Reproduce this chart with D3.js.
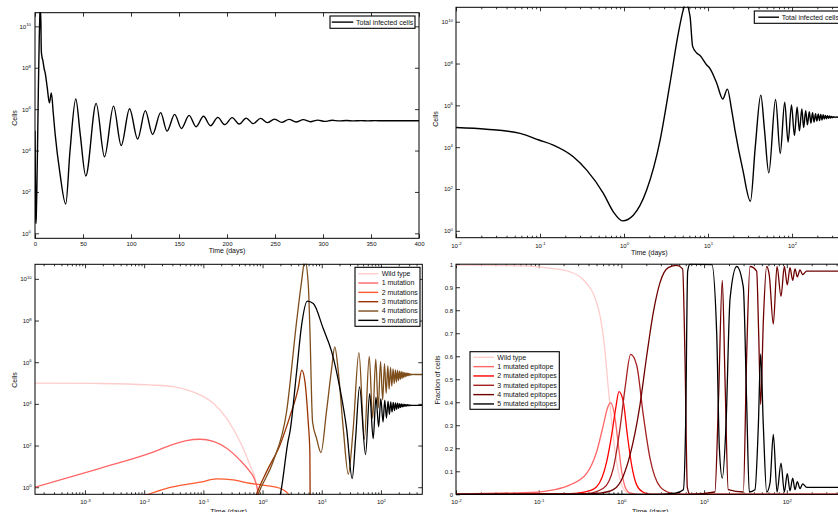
<!DOCTYPE html>
<html><head><meta charset="utf-8">
<script src="https://cdn.jsdelivr.net/npm/d3@7"></script>
<style>
body{margin:0;background:#fff;overflow:hidden}
svg{display:block}
</style></head><body>
<svg id="c" width="838" height="512"></svg>
<script>
// ---------------- DATA ----------------
// Total infected cells (top panels), time in days
const totalTime = [0, 0.01, 0.023, 0.058, 0.097, 0.144, 0.249, 0.36, 0.568, 0.746, 0.96, 1.29, 1.86, 2.69, 3.53, 4.44, 5.08, 5.42, 6.11, 6.56, 7.33, 8.04, 9.6, 10.6, 12.7, 15.0, 17.0, 19.1, 20.9, 26, 32, 36.5, 42.5, 47, 52.9, 63.7, 72.4, 81.8, 89.8, 98.5, 106.9, 114.9, 122.5, 130.9, 137.5, 145.5, 152.5, 160.5, 167.8, 175.5, 182.8, 190.4, 197.7, 205.4, 212.7, 220, 227.3, 235, 242, 249.6, 257, 264.6, 271.9, 279.5, 286.9, 294.5, 301.8, 309.5, 316.8, 324.5, 331.8, 339.4, 346.7, 354.4, 361.7, 370, 400];
const totalCells = [9.0e4, 8.7e4, 7.2e4, 4.6e4, 2.2e4, 1.26e4, 3.5e3, 8.0e2, 62, 8.1, 3.0, 5.6, 89, 2.2e4, 1.15e7, 2.9e9, 3.8e10, 8.0e10, 1.8e10, 6.6e8, 3.2e8, 2.4e8, 8.7e7, 5.6e7, 1.15e7, 2.0e6, 6.0e6, 6.0e5, 6.8e4, 7.9e2, 26, 1.0e4, 3.1e6, 6.8e4, 5.9e2, 1.9e6, 5.0e3, 1.4e6, 1.74e4, 1.05e6, 3.6e4, 8.5e5, 6.0e4, 6.8e5, 8.7e4, 5.6e5, 1.17e5, 5.0e5, 1.41e5, 4.5e5, 1.58e5, 4.0e5, 1.78e5, 3.9e5, 1.9e5, 3.7e5, 2.0e5, 3.6e5, 2.24e5, 3.3e5, 2.3e5, 3.2e5, 2.4e5, 3.1e5, 2.45e5, 2.95e5, 2.57e5, 2.9e5, 2.7e5, 2.82e5, 2.7e5, 2.8e5, 2.72e5, 2.78e5, 2.74e5, 2.76e5, 2.76e5];

// Cells by number of mutations (bottom-left panel)
const wildTime = [1.43e-4, 1.8e-3, 0.0126, 0.031, 0.052, 0.088, 0.147, 0.247, 0.415, 0.612, 0.794, 0.83, 0.9];
const wildCells = [9.8e4, 9.5e4, 8.1e4, 6.8e4, 4.7e4, 2.7e4, 1.07e4, 2.0e3, 155, 11.7, 1.3, 0.3, 0.01];
const mut1Time = [1.43e-4, 1.8e-3, 0.0126, 0.031, 0.052, 0.088, 0.147, 0.247, 0.415, 0.612, 0.70, 0.80, 0.86, 0.95];
const mut1Cells = [1.0, 8.1, 43, 115, 174, 200, 158, 74, 20, 5.6, 3.2, 1.1, 0.4, 0.05];
const mut2Time = [0.0085, 0.024, 0.052, 0.088, 0.167, 0.32, 0.612, 1.17, 1.97, 2.55, 3.3];
const mut2Cells = [0.32, 0.89, 1.38, 1.74, 2.5, 2.24, 1.55, 1.2, 0.89, 0.58, 0.25];
const mut3Time = [0.70, 0.79, 1.17, 1.97, 2.9, 4.0, 4.6, 5.2, 5.9, 6.3, 6.45];
const mut3Cells = [0.16, 0.46, 5.6, 107, 2.5e3, 5.6e4, 4.2e5, 1.17e5, 1.4e3, 50, 1e-3];
const mut4Time = [0.745, 0.845, 1.51, 2.55, 3.76, 4.56, 5.2, 5.93, 6.3, 7.0, 8.2, 9.7, 12.0, 14.7, 16.6, 19.1, 23.1, 28.1, 34, 42.5, 52.5, 63.5, 72.4, 81.8, 90, 98.5, 107, 114.9, 122.5, 130.9, 137.5, 145.5, 152.5, 160.5, 167.8, 175.5, 182.8, 190.4, 197.7, 205.4, 212.7, 220, 227.3, 235, 242, 249.6, 257, 264.6, 271.9, 279.5, 286.9, 294.5, 301.8, 309.5, 316.8, 324.5, 331.8, 339.4, 346.7, 354.4, 370, 500];
const mut4Cells = [0.16, 0.46, 17, 4.3e3, 8.9e7, 7.4e9, 8e10, 5.1e9, 4.1e7, 1.35e3, 214, 46, 4.1e3, 4.9e5, 5.5e6, 3.4e5, 650, 4.2, 650, 2.9e6, 200, 1.9e6, 2.0e3, 1.41e6, 6.3e3, 1.05e6, 1.58e4, 8.5e5, 3.2e4, 6.8e5, 5.0e4, 5.6e5, 7.1e4, 4.8e5, 9.3e4, 4.3e5, 1.12e5, 4.0e5, 1.32e5, 3.7e5, 1.51e5, 3.55e5, 1.66e5, 3.4e5, 1.82e5, 3.16e5, 2.0e5, 3.1e5, 2.14e5, 2.95e5, 2.24e5, 2.9e5, 2.34e5, 2.75e5, 2.45e5, 2.7e5, 2.5e5, 2.63e5, 2.54e5, 2.6e5, 2.57e5, 2.57e5];
const mut5Time = [1.85, 2.0, 2.72, 2.9, 3.76, 4.57, 5.69, 7.2, 10.6, 14.7, 20.3, 26.3, 32.7, 37.3, 43.5, 55, 64.5, 74, 82.5, 91.5, 99.5, 108.5, 116, 124, 132, 139, 146.5, 154, 161.5, 169.5, 176.5, 184.5, 191.5, 199.5, 206.5, 214.5, 221, 229, 236, 244, 250.5, 258.5, 265.5, 273.5, 280.5, 288.5, 295.5, 303.5, 310.5, 318.5, 340, 500];
const mut5Cells = [0.2, 0.46, 186, 447, 3.4e5, 6.0e7, 8.5e8, 6.5e8, 4.1e7, 3.2e6, 5.4e4, 650, 2.6, 214, 6.6e4, 37, 3.1e4, 214, 2.1e4, 794, 1.78e4, 1.35e3, 1.5e4, 2.1e3, 1.35e4, 3.1e3, 1.26e4, 4.1e3, 1.17e4, 4.8e3, 1.12e4, 5.5e3, 1.07e4, 6.0e3, 1.02e4, 6.6e3, 1.0e4, 7.1e3, 9.8e3, 7.4e3, 9.5e3, 7.8e3, 9.3e3, 7.9e3, 9.1e3, 8.1e3, 9.0e3, 8.2e3, 8.9e3, 8.3e3, 8.5e3, 8.5e3];

// Fraction of cells by number of mutated epitopes (bottom-right panel)
const fWildTime = [0.01, 0.0594, 0.150, 0.239, 0.316, 0.38, 0.457, 0.526, 0.578, 0.634, 0.695, 0.763, 0.838, 0.92, 1.01, 1.16, 1.5, 500];
const fWild = [0.996, 0.993, 0.981, 0.967, 0.945, 0.916, 0.873, 0.808, 0.735, 0.619, 0.46, 0.315, 0.185, 0.098, 0.041, 0.009, 0, 0];
const f1Time = [0.01, 0.095, 0.150, 0.239, 0.38, 0.502, 0.605, 0.676, 0.741, 0.838, 0.919, 1.01, 1.106, 1.27, 1.6, 500];
const f1 = [0.002, 0.009, 0.019, 0.041, 0.091, 0.185, 0.301, 0.373, 0.398, 0.33, 0.214, 0.098, 0.033, 0.006, 0, 0];
const f2Time = [0.01, 0.239, 0.38, 0.502, 0.664, 0.763, 0.853, 0.935, 1.055, 1.18, 1.33, 1.53, 1.84, 2.3, 500];
const f2 = [0, 0.003, 0.012, 0.033, 0.142, 0.258, 0.373, 0.446, 0.402, 0.258, 0.127, 0.041, 0.009, 0, 0];
const f3Time = [0.01, 0.38, 0.605, 0.798, 0.962, 1.106, 1.294, 1.53, 1.84, 2.22, 2.93, 3.87, 5, 500];
const f3 = [0, 0.003, 0.026, 0.113, 0.287, 0.46, 0.608, 0.561, 0.344, 0.156, 0.033, 0.006, 0, 0];
const f4Time = [0.01, 0.3, 0.551, 0.798, 1.055, 1.27, 1.68, 2.02, 2.43, 2.93, 3.69, 4.66, 5.5, 5.87, 6.27, 6.76, 13.5, 14.9, 16.6, 17.9, 19.6, 29.8, 32.7, 35.9, 43.2, 45.7, 48.3, 52, 57.1, 61.5, 68.7, 76.2, 85.1, 93.4, 101.4, 109.3, 117.8, 125.7, 134, 144.5, 155.6, 174, 500];
const f4 = [0, 0, 0.005, 0.02, 0.08, 0.17, 0.39, 0.6, 0.79, 0.92, 0.985, 0.995, 0.98, 0.6, 0.03, 0, 0.01, 0.4, 0.93, 0.5, 0.02, 0.01, 0.6, 0.99, 0.97, 0.7, 0.39, 0.75, 0.99, 0.95, 0.74, 0.99, 0.86, 0.99, 0.91, 0.985, 0.93, 0.98, 0.945, 0.975, 0.955, 0.97, 0.97];
const f5Time = [0.01, 3, 4.5, 5.61, 5.98, 6.33, 6.76, 12.4, 14.2, 15.3, 16.6, 18.4, 20.6, 24.8, 29.8, 32.7, 35.2, 41.2, 45.3, 48.3, 52, 57.1, 62.7, 68.7, 76.2, 85.1, 93.4, 101.4, 109.3, 117.8, 125.7, 134, 144.5, 155.6, 174, 500];
const f5 = [0, 0, 0.005, 0.02, 0.3, 0.97, 1.0, 0.998, 0.7, 0.2, 0.07, 0.3, 0.85, 0.99, 0.9, 0.4, 0.01, 0.02, 0.3, 0.61, 0.3, 0.01, 0.05, 0.26, 0.01, 0.135, 0.01, 0.09, 0.015, 0.07, 0.02, 0.055, 0.025, 0.045, 0.03, 0.03];

// Ticks and labels
const linTicks = [0, 50, 100, 150, 200, 250, 300, 350, 400];
const linLabels = ["0", "50", "100", "150", "200", "250", "300", "350", "400"];
const cellTicks = [1, 1e2, 1e4, 1e6, 1e8, 1e10];
const cellExp = ["0", "2", "4", "6", "8", "10"];
const timeTicksA = [0.01, 0.1, 1, 10, 100];
const timeExpA = ["-2", "-1", "0", "1", "2"];
const timeTicksB = [0.001, 0.01, 0.1, 1, 10, 100];
const timeExpB = ["-3", "-2", "-1", "0", "1", "2"];
const fracTicks = [0, 0.1, 0.2, 0.3, 0.4, 0.5, 0.6, 0.7, 0.8, 0.9, 1];
const fracLabels = ["0", "0.1", "0.2", "0.3", "0.4", "0.5", "0.6", "0.7", "0.8", "0.9", "1"];

const totalLegend = ["Total infected cells"];
const cellLegend = ["Wild type", "1 mutation", "2 mutations", "3 mutations", "4 mutations", "5 mutations"];
const fracLegend = ["Wild type", "1 mutated epitope", "2 mutated epitopes", "3 mutated epitopes", "4 mutated epitopes", "5 mutated epitopes"];
const cellColors = ["#ffcccc", "#ff6666", "#ff5a30", "#993300", "#7d4d1c", "#000000"];
const fracColors = ["#ffcccc", "#ff6666", "#ff0000", "#a52020", "#700000", "#000000"];

// ---------------- DRAWING ----------------
const FONT = '"Liberation Sans", Arial, Helvetica, sans-serif';
const svg = d3.select('#c');
const defs = svg.append('defs');
const TICK = 4, MINOR = 2;
let clipId = 0;

function minorLog(domain) {
  const out = [];
  for (let d = -5; d <= 3; d++) for (let m = 2; m <= 9; m++) {
    const v = m * Math.pow(10, d);
    if (v > domain[0] && v < domain[1]) out.push(v);
  }
  return out;
}

function sup(sel) {
  sel.each(function () {
    const t = d3.select(this), e = this.textContent;
    if (!e) return;
    t.text(null);
    t.append('tspan').text('10');
    t.append('tspan').attr('dy', '-0.55em').attr('font-size', '4.3px').text(e);
  });
}

function panel(x, y, o) {
  const [xa, xb] = x.range(), [yb, yt] = y.range();
  const g = svg.append('g');
  const b = g.append('g').attr('transform', `translate(0,${yb})`)
    .call(d3.axisBottom(x).tickValues(o.xTicks).tickSizeInner(-TICK).tickSizeOuter(0)
      .tickPadding(o.xPad).tickFormat((d, i) => o.xLabels[i]));
  g.append('g').attr('transform', `translate(0,${yt})`)
    .call(d3.axisTop(x).tickValues(o.xTicks).tickSizeInner(-TICK).tickSizeOuter(0).tickFormat(() => ''));
  if (o.xMinor) {
    const mv = minorLog(x.domain());
    g.append('g').attr('transform', `translate(0,${yb})`)
      .call(d3.axisBottom(x).tickValues(mv).tickSizeInner(-MINOR).tickSizeOuter(0).tickFormat(() => ''));
    g.append('g').attr('transform', `translate(0,${yt})`)
      .call(d3.axisTop(x).tickValues(mv).tickSizeInner(-MINOR).tickSizeOuter(0).tickFormat(() => ''));
  }
  const l = g.append('g').attr('transform', `translate(${xa},0)`)
    .call(d3.axisLeft(y).tickValues(o.yTicks).tickSizeInner(-TICK).tickSizeOuter(0)
      .tickPadding(o.yPad).tickFormat((d, i) => o.yLabels[i]));
  g.append('g').attr('transform', `translate(${xb},0)`)
    .call(d3.axisRight(y).tickValues(o.yTicks).tickSizeInner(-TICK).tickSizeOuter(0).tickFormat(() => ''));
  g.selectAll('.domain').remove();
  g.selectAll('.tick line').attr('stroke', '#000').attr('stroke-width', 0.8);
  g.selectAll('text').attr('font-size', '6px').attr('font-family', FONT).attr('fill', '#111');
  if (o.xSup) sup(b.selectAll('text'));
  if (o.ySup) sup(l.selectAll('text'));

  const id = 'clip' + (clipId++);
  defs.append('clipPath').attr('id', id).append('rect')
    .attr('x', xa).attr('y', yt - 0.7).attr('width', xb - xa).attr('height', yb - yt + 1.4);
  const plot = svg.append('g').attr('clip-path', `url(#${id})`);

  svg.append('rect').attr('x', xa).attr('y', yt).attr('width', xb - xa).attr('height', yb - yt)
    .attr('fill', 'none').attr('stroke', '#000').attr('stroke-width', 1);

  // labels
  svg.append('text').attr('x', (xa + xb) / 2).attr('y', o.xLabelY).attr('text-anchor', 'middle')
    .attr('font-family', FONT).attr('font-size', '7px').attr('fill', '#111').text('Time (days)');
  svg.append('text').attr('transform', `translate(${o.yLabelX},${o.yLabelY}) rotate(-90)`)
    .attr('text-anchor', 'middle').attr('font-family', FONT).attr('font-size', '7px').attr('fill', '#111').text(o.yTitle);
  return plot;
}

function series(plot, x, y, times, vals, color, w) {
  const logX = !!x.base;
  const pts = times.map((t, i) => [t, vals[i]]).filter(p => !logX || p[0] > 0);
  const line = d3.line().x(p => x(p[0])).y(p => y(p[1])).curve(d3.curveMonotoneX);
  plot.append('path').attr('d', line(pts)).attr('fill', 'none').attr('stroke', color)
    .attr('stroke-width', w).attr('stroke-linejoin', 'round');
}

function legend(bx, by, bw, bh, labels, colors, lx0, lx1, tx, ry0, step) {
  const g = svg.append('g');
  g.append('rect').attr('x', bx).attr('y', by).attr('width', bw).attr('height', bh)
    .attr('fill', '#fff').attr('stroke', '#000').attr('stroke-width', 1.1);
  labels.forEach((lab, i) => {
    const yy = ry0 + i * step;
    g.append('line').attr('x1', lx0).attr('x2', lx1).attr('y1', yy).attr('y2', yy)
      .attr('stroke', colors[i]).attr('stroke-width', 1.4);
    g.append('text').attr('x', tx).attr('y', yy + 2.4).attr('font-family', FONT)
      .attr('font-size', '7px').attr('fill', '#111').text(lab);
  });
}

// Panel 1: linear time
const x1 = d3.scaleLinear().domain([0, 400]).range([35, 419]);
const y1 = d3.scaleLog().domain([0.575, 4.57e10]).range([238.3, 12.7]);
const p1 = panel(x1, y1, { xTicks: linTicks, xLabels: linLabels, xPad: 3.7, yTicks: cellTicks, yLabels: cellExp,
  yPad: 4, ySup: true, xLabelY: 252.5, yLabelX: 16.5, yLabelY: 118, yTitle: 'Cells' });
series(p1, x1, y1, totalTime, totalCells, '#000', 1.4);
legend(330, 16, 85, 12.3, totalLegend, ['#000'], 331.7, 353.3, 356, 22.1, 0);

// Panel 2: log time
const x2 = d3.scaleLog().domain([0.01, 400]).range([456, 842.6]);
const y2 = d3.scaleLog().domain([0.468, 4.9e10]).range([237.7, 7.3]);
const p2 = panel(x2, y2, { xTicks: timeTicksA, xLabels: timeExpA, xPad: 5.7, xSup: true, xMinor: true,
  yTicks: cellTicks, yLabels: cellExp, yPad: 3, ySup: true, xLabelY: 255, yLabelX: 437.5, yLabelY: 119, yTitle: 'Cells' });
series(p2, x2, y2, totalTime, totalCells, '#000', 1.4);
legend(754.3, 11, 100, 12.3, totalLegend, ['#000'], 758.3, 779, 781.7, 17.2, 0);

// Panel 3: cells by mutation class
const x3 = d3.scaleLog().domain([1.43e-4, 500]).range([35, 422.3]);
const y3 = d3.scaleLog().domain([0.457, 5.0e10]).range([494.3, 264.3]);
const p3 = panel(x3, y3, { xTicks: timeTicksB, xLabels: timeExpB, xPad: 5.7, xSup: true, xMinor: true,
  yTicks: cellTicks, yLabels: cellExp, yPad: 3.3, ySup: true, xLabelY: 513.5, yLabelX: 16.5, yLabelY: 380, yTitle: 'Cells' });
const cellSeries = [[wildTime, wildCells], [mut1Time, mut1Cells], [mut2Time, mut2Cells],
  [mut3Time, mut3Cells], [mut4Time, mut4Cells], [mut5Time, mut5Cells]];
cellSeries.forEach((s, i) => series(p3, x3, y3, s[0], s[1], cellColors[i], 1.3));
legend(355, 267.3, 65, 59, cellLegend, cellColors, 358.3, 378.3, 381.7, 273.7, 9.33);

// Panel 4: fractions
const x4 = d3.scaleLog().domain([0.01, 500]).range([456, 844.6]);
const y4 = d3.scaleLinear().domain([0, 1]).range([494.3, 264.2]);
const p4 = panel(x4, y4, { xTicks: timeTicksA, xLabels: timeExpA, xPad: 5.7, xSup: true, xMinor: true,
  yTicks: fracTicks, yLabels: fracLabels, yPad: 3, xLabelY: 513.5, yLabelX: 440, yLabelY: 380, yTitle: 'Fraction of cells' });
const fracSeries = [[fWildTime, fWild], [f1Time, f1], [f2Time, f2], [f3Time, f3], [f4Time, f4], [f5Time, f5]];
fracSeries.forEach((s, i) => series(p4, x4, y4, s[0], s[1], fracColors[i], 1.3));
legend(470, 351.7, 89.3, 57.6, fracLegend, fracColors, 473.3, 494, 497.3, 357.3, 9.33);
</script>
</body></html>
